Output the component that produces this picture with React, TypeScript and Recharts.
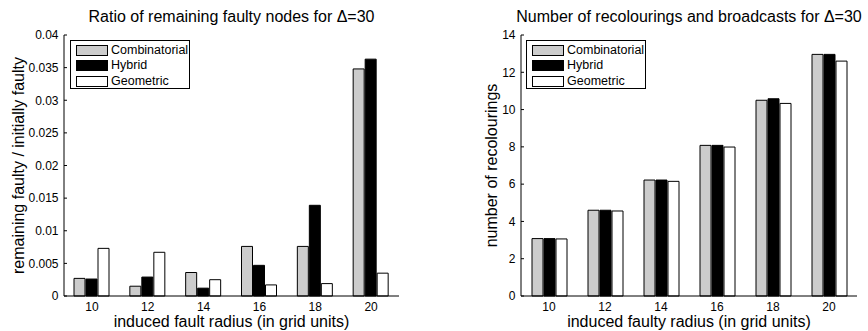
import { Bar, BarChart, XAxis, YAxis } from "recharts";

const radii = ["10", "12", "14", "16", "18", "20"];

const ratioCombinatorial = [0.0027, 0.0015, 0.0036, 0.0076, 0.0076, 0.0348];
const ratioHybrid = [0.0026, 0.0029, 0.0012, 0.0047, 0.0139, 0.0363];
const ratioGeometric = [0.0073, 0.0067, 0.0025, 0.0017, 0.0019, 0.0035];

const recolCombinatorial = [3.08, 4.6, 6.22, 8.08, 10.5, 12.96];
const recolHybrid = [3.08, 4.6, 6.22, 8.08, 10.58, 12.96];
const recolGeometric = [3.06, 4.56, 6.15, 7.99, 10.33, 12.6];

const ratioTicks = [0, 0.005, 0.01, 0.015, 0.02, 0.025, 0.03, 0.035, 0.04];
const recolTicks = [0, 2, 4, 6, 8, 10, 12, 14];

const SERIES = [
  { key: "comb", name: "Combinatorial", fill: "#cccccc" },
  { key: "hyb", name: "Hybrid", fill: "#000000" },
  { key: "geo", name: "Geometric", fill: "#ffffff" },
];

const FONT = '"Liberation Sans", Arial, Helvetica, sans-serif';

const ratioData = radii.map((r, i) => ({
  radius: r,
  comb: ratioCombinatorial[i],
  hyb: ratioHybrid[i],
  geo: ratioGeometric[i],
}));

const recolData = radii.map((r, i) => ({
  radius: r,
  comb: recolCombinatorial[i],
  hyb: recolHybrid[i],
  geo: recolGeometric[i],
}));

// MATLAB-style boxed legend, placed over the plot's top-left corner
function BoxLegend({ left }: { left: number }) {
  return (
    <div
      style={{
        position: "absolute",
        left,
        top: 40,
        width: 118,
        height: 45,
        border: "1px solid #000",
        background: "#fff",
        fontFamily: FONT,
        fontSize: 12.5,
        paddingTop: 2,
        zIndex: 2,
      }}
    >
      {SERIES.map((s) => (
        <div
          key={s.key}
          style={{ display: "flex", alignItems: "center", height: 15.3 }}
        >
          <span
            style={{
              display: "inline-block",
              width: 30,
              height: 9,
              marginLeft: 5,
              marginRight: 3,
              background: s.fill,
              border: "1px solid #000",
            }}
          />
          <span style={{ color: "#000", lineHeight: "15px" }}>{s.name}</span>
        </div>
      ))}
    </div>
  );
}

interface PanelProps {
  data: typeof ratioData;
  ticks: number[];
  max: number;
  yWidth: number;
  right: number;
  title: string;
  xLabel: string;
  yLabel: string;
  yLabelOffset: number;
  legendLeft: number;
}

function Panel(p: PanelProps) {
  const plotLeft = p.yWidth;
  const plotRight = 434 - p.right;
  return (
    <div style={{ position: "relative", width: 434, height: 331 }}>
      <div
        style={{
          position: "absolute",
          left: plotLeft - 60,
          width: plotRight - plotLeft + 120,
          top: 9,
          textAlign: "center",
          fontFamily: FONT,
          fontSize: 16,
          lineHeight: "16px",
          color: "#000",
          whiteSpace: "nowrap",
        }}
      >
        {p.title}
      </div>
      <BoxLegend left={p.legendLeft} />
      <BarChart
        width={434}
        height={331}
        data={p.data}
        margin={{ top: 35, right: p.right, bottom: 0, left: 0 }}
        barSize={11}
        barGap={1}
      >
        <XAxis
          dataKey="radius"
          height={35}
          tickSize={-3}
          tickMargin={9}
          stroke="#000"
          tick={{ fill: "#000", fontSize: 12, fontFamily: FONT }}
          label={{
            value: p.xLabel,
            position: "insideBottom",
            offset: 4,
            fill: "#000",
            fontSize: 16,
            fontFamily: FONT,
          }}
        />
        <YAxis
          width={p.yWidth}
          domain={[0, p.max]}
          ticks={p.ticks}
          interval={0}
          tickSize={-3}
          tickMargin={8.5}
          stroke="#000"
          tickFormatter={(v: number) => String(v)}
          tick={{ fill: "#000", fontSize: 12, fontFamily: FONT }}
          label={{
            value: p.yLabel,
            angle: -90,
            position: "insideLeft",
            offset: p.yLabelOffset,
            style: { textAnchor: "middle" },
            fill: "#000",
            fontSize: 16,
            fontFamily: FONT,
          }}
        />
        {SERIES.map((s) => (
          <Bar
            key={s.key}
            dataKey={s.key}
            name={s.name}
            fill={s.fill}
            stroke="#000"
            strokeWidth={1}
            isAnimationActive={false}
          />
        ))}
      </BarChart>
    </div>
  );
}

export default function App() {
  return (
    <div
      style={{
        position: "absolute",
        left: 0,
        top: 0,
        width: 868,
        height: 331,
        display: "flex",
        background: "#fff",
      }}
    >
      <Panel
        data={ratioData}
        ticks={ratioTicks}
        max={0.04}
        yWidth={64}
        right={35}
        title="Ratio of remaining faulty nodes for Δ=30"
        xLabel="induced fault radius (in grid units)"
        yLabel="remaining faulty / initially faulty"
        yLabelOffset={18}
        legendLeft={70}
      />
      <Panel
        data={recolData}
        ticks={recolTicks}
        max={14}
        yWidth={87}
        right={11}
        title="Number of recolourings and broadcasts for Δ=30"
        xLabel="induced faulty radius (in grid units)"
        yLabel="number of recolourings"
        yLabelOffset={57}
        legendLeft={92}
      />
    </div>
  );
}
